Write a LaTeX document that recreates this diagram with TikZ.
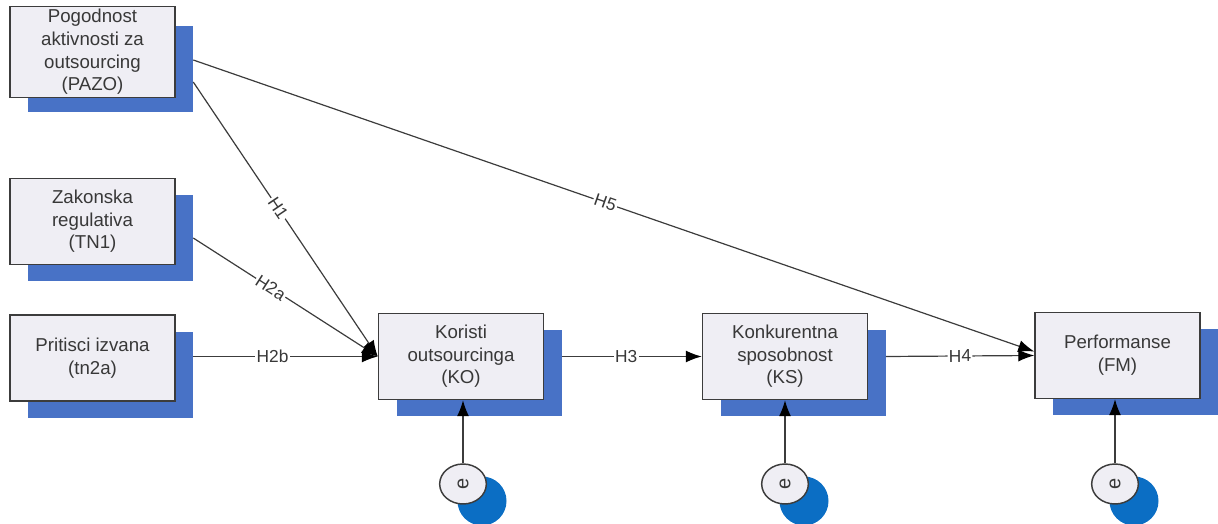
\documentclass[tikz,border=0pt]{standalone}
\usepackage{fontspec}
\setmainfont{Liberation Sans}
\usetikzlibrary{arrows.meta,calc,shapes.geometric}
\definecolor{boxfill}{HTML}{EFEEF4}
\definecolor{shadowblue}{HTML}{4872C6}
\definecolor{errblue}{HTML}{0B6EC4}
\definecolor{linegray}{HTML}{3C3C3C}
\definecolor{textgray}{HTML}{383838}

\tikzset{
  varbox/.style={draw=linegray, line width=1.1pt, fill=boxfill, minimum width=123.75pt,
    minimum height=64.5pt, inner sep=2pt, align=center, text=textgray,
    font=\fontsize{14}{17}\selectfont},
  shadowbox/.style={fill=shadowblue, minimum width=123.75pt, minimum height=64.5pt, inner sep=0pt},
  errnode/.style={ellipse, draw=linegray, line width=1.1pt, fill=boxfill, minimum width=35pt,
    minimum height=30pt, inner sep=0pt,
    label={[rotate=90, text=textgray, font=\fontsize{15}{17}\selectfont]center:e}},
  errshadow/.style={circle, fill=errblue, minimum size=36.75pt, inner sep=0pt},
  hyp/.style={draw=linegray, line width=0.9pt, -{Latex[length=12pt,width=9pt,color=black]}},
  hlabel/.style={fill=white, inner sep=1pt, sloped, text=textgray, font=\fontsize{13}{15}\selectfont}
}

\begin{document}
\begin{tikzpicture}[x=0.75pt, y=-0.75pt]
    \useasboundingbox (0,0) rectangle (1218,524);

    % Exogenous constructs (left column)
    \node[shadowbox] (pazoS) at (110.5,69) {};
    \node[varbox] (pazo) at (92.5,52) {Pogodnost\\aktivnosti za\\outsourcing\\(PAZO)};
    \node[shadowbox] (tn1S) at (110.5,238) {};
    \node[varbox] (tn1) at (92.5,221.5) {Zakonska\\regulativa\\(TN1)};
    \node[shadowbox] (tn2S) at (110.5,375) {};
    \node[varbox] (tn2) at (92.5,358) {Pritisci izvana\\(tn2a)};

    % Endogenous constructs
    \node[shadowbox] (koS) at (479,373) {};
    \node[varbox] (ko) at (461,356.5) {Koristi\\outsourcinga\\(KO)};
    \node[shadowbox] (ksS) at (803,373) {};
    \node[varbox] (ks) at (785,356.5) {Konkurentna\\sposobnost\\(KS)};
    \node[shadowbox] (fmS) at (1135.5,372) {};
    \node[varbox] (fm) at (1117.5,355.5) {Performanse\\(FM)};

    % Error terms
    \foreach \n/\x in {ko/463, ks/785, fm/1115} {
        \node[errshadow] (e\n S) at (\x+19,501) {};
        \node[errnode] (e\n) at (\x,484) {};
        \draw[hyp] (e\n.north) -- (e\n.north |- \n.south);
    }

    % Hypotheses
    \draw[hyp] ($(pazoS.east)+(0,13)$) -- node[hlabel, pos=0.46] {H1} (ko.west);
    \draw[hyp] (tn1S.east) -- node[hlabel, pos=0.42] {H2a} (ko.west);
    \draw[hyp] (tn2S.east |- ko.west) -- node[hlabel, pos=0.43] {H2b} (ko.west);
    \draw[hyp] (koS.east |- ko.east) -- node[hlabel, pos=0.46] {H3} (ks.west);
    \draw[hyp] (ksS.east |- ks.east) -- node[hlabel, pos=0.5] {H4} (fm.west);
    \draw[hyp] ($(pazoS.east)+(0,-9)$) -- node[hlabel, pos=0.49] {H5} ($(fm.west)+(0,-4)$);
\end{tikzpicture}
\end{document}
